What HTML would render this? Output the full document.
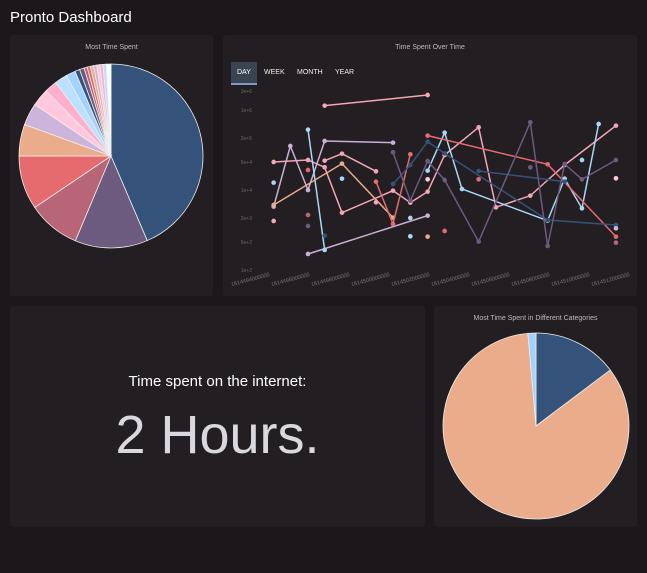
<!DOCTYPE html>
<html><head><meta charset="utf-8"><style>
body{margin:0;width:647px;height:573px;background:#1b171a;font-family:"Liberation Sans",sans-serif;overflow:hidden;position:relative}
.p{position:absolute;background:#221e21;border-radius:3px}
.t{position:absolute;color:#bbb;font-size:7px;text-align:center;width:100%}
svg{position:absolute;left:0;top:0}
</style></head><body>
<div style="position:absolute;left:10px;top:9px;color:#fff;font-size:15px">Pronto Dashboard</div>
<div class="p" style="left:10px;top:35px;width:203px;height:261px"><div class="t" style="top:9px">Most Time Spent</div></div>
<div class="p" style="left:223px;top:35px;width:414px;height:261px"><div class="t" style="top:9px">Time Spent Over Time</div>
<div style="position:absolute;left:8px;top:27px;width:26px;height:21px;background:#3a4352;border-bottom:2px solid #7a9cc6"></div>
<div style="position:absolute;top:34px;left:14px;color:#fff;font-size:7px">DAY</div>
<div style="position:absolute;top:34px;left:41px;color:#eee;font-size:7px">WEEK</div>
<div style="position:absolute;top:34px;left:74px;color:#eee;font-size:7px">MONTH</div>
<div style="position:absolute;top:34px;left:112px;color:#eee;font-size:7px">YEAR</div>
</div>
<div class="p" style="left:10px;top:306px;width:415px;height:221px">
<div style="position:absolute;top:67px;width:100%;text-align:center;color:#fff;font-size:15px">Time spent on the internet:</div>
<div style="position:absolute;top:98px;width:100%;text-align:center;color:#d8d8de;font-size:54px">2 Hours.</div>
</div>
<div class="p" style="left:434px;top:306px;width:203px;height:221px"><div class="t" style="top:9px">Most Time Spent in Different Categories</div></div>
<svg width="647" height="573" id="s">
<g id="pies"></g>
<g font-size="5" fill="#666" font-family="Liberation Sans">
<text x="252" y="93" text-anchor="end">3e+6</text><text x="252" y="112" text-anchor="end">1e+6</text>
<text x="252" y="140" text-anchor="end">2e+5</text><text x="252" y="164" text-anchor="end">5e+4</text>
<text x="252" y="192" text-anchor="end">1e+4</text><text x="252" y="220" text-anchor="end">2e+3</text>
<text x="252" y="244" text-anchor="end">5e+2</text><text x="252" y="272" text-anchor="end">1e+2</text>
</g>
<g id="xl" font-size="5.5" fill="#777" font-family="Liberation Sans"></g>
<g transform="translate(222,35) scale(0.3333)" fill="none" stroke-width="4.5" id="ln"></g>
</svg>
<script>
const NS="http://www.w3.org/2000/svg";
function pie(cx,cy,r,sl){let g=document.getElementById('pies');let a0=0;for(const[a1,c]of sl){const f=d=>(d-90)*Math.PI/180;
let p=document.createElementNS(NS,'path');let x0=cx+r*Math.cos(f(a0)),y0=cy+r*Math.sin(f(a0)),x1=cx+r*Math.cos(f(a1)),y1=cy+r*Math.sin(f(a1));
p.setAttribute('d',`M${cx},${cy}L${x0},${y0}A${r},${r} 0 ${a1-a0>180?1:0} 1 ${x1},${y1}Z`);p.setAttribute('fill',c);p.setAttribute('stroke','#eee');p.setAttribute('stroke-width','0.8');g.appendChild(p);a0=a1;}}
pie(111,156,92,[[156.8,'#35537a'],[202.8,'#6c5a7f'],[236,'#b86677'],[270,'#e56b6f'],[290,'#eaac8b'],[304,'#cdb4db'],[315,'#ffc8dd'],[323,'#ffafcc'],[331,'#bde0fe'],[337,'#a2d2ff'],[340,'#35537a'],[343,'#6c5a7f'],[345,'#b86677'],[347,'#e56b6f'],[349,'#eaac8b'],[351,'#cdb4db'],[353,'#ffc8dd'],[355,'#ffafcc'],[357,'#bde0fe'],[360,'#ffffff']]);
pie(536,426,93,[[53,'#35537a'],[355,'#eaac8b'],[360,'#a2d2ff']]);
const xl=document.getElementById('xl');
const labs=['1614494000000','1614496000000','1614498000000','1614500000000','1614502000000','1614504000000','1614506000000','1614508000000','1614510000000','1614512000000'];
for(let i=0;i<10;i++){let t=document.createElementNS(NS,'text');let x=270+i*40;t.setAttribute('x',x);t.setAttribute('y',276);t.setAttribute('text-anchor','end');t.setAttribute('transform',`rotate(-15 ${x} 276)`);t.textContent=labs[i];xl.appendChild(t);}
const L=[
['#f4a6b8',[[308,212],[617,180]]],
['#c8b0d8',[[155,515],[205,333],[258,465],[308,318],[513,323]]],
['#c8b0d8',[[258,657],[617,542]]],
['#f4a6b8',[[155,381],[258,375],[308,397],[360,533],[513,467],[565,503],[617,470],[668,360],[770,277],[822,517],[925,482],[1028,390],[1182,272]]],
['#f4a6b8',[[308,377],[360,356],[462,409]]],
['#a8d8f8',[[258,284],[308,645]]],
['#a8d8f8',[[617,407],[668,293],[720,462],[977,557],[1028,431],[1080,520],[1130,267]]],
['#eaac8b',[[155,510],[360,386],[513,548]]],
['#e56b6f',[[462,440],[513,567],[565,358]]],
['#e56b6f',[[617,302],[977,388],[1182,605]]],
['#35537a',[[513,447],[565,390],[617,320],[668,355],[977,555],[1182,570]]],
['#35537a',[[770,408],[1028,440]]],
['#6c5a7f',[[513,352],[565,497],[617,378],[668,435],[770,620],[925,262],[977,633],[1028,387],[1080,433],[1182,375]]]];
const ln=document.getElementById('ln');
for(const[c,pts]of L){let p=document.createElementNS(NS,'polyline');p.setAttribute('points',pts.map(q=>q.join(',')).join(' '));p.setAttribute('stroke',c);ln.appendChild(p);
for(const q of pts){let d=document.createElementNS(NS,'circle');d.setAttribute('cx',q[0]);d.setAttribute('cy',q[1]);d.setAttribute('r',7);d.setAttribute('fill',c);d.setAttribute('stroke','none');ln.appendChild(d);}}
const D=[[155,443,'#a8d8f8'],[155,558,'#f4a6b8'],[258,405,'#e56b6f'],[258,540,'#b86677'],[258,573,'#6c5a7f'],[308,602,'#35537a'],[360,431,'#a8d8f8'],[462,502,'#f4a6b8'],[565,549,'#a8d8f8'],[565,604,'#a8d8f8'],[617,605,'#eaac8b'],[668,588,'#e56b6f'],[617,433,'#ffc8dd'],[770,433,'#e56b6f'],[925,397,'#6c5a7f'],[1080,375,'#a8d8f8'],[1182,430,'#ffc8dd'],[1182,580,'#cdb4db'],[1182,623,'#b86677']];
for(const[x,y,c]of D){let d=document.createElementNS(NS,'circle');d.setAttribute('cx',x);d.setAttribute('cy',y);d.setAttribute('r',7);d.setAttribute('fill',c);ln.appendChild(d);}
</script>
</body></html>
